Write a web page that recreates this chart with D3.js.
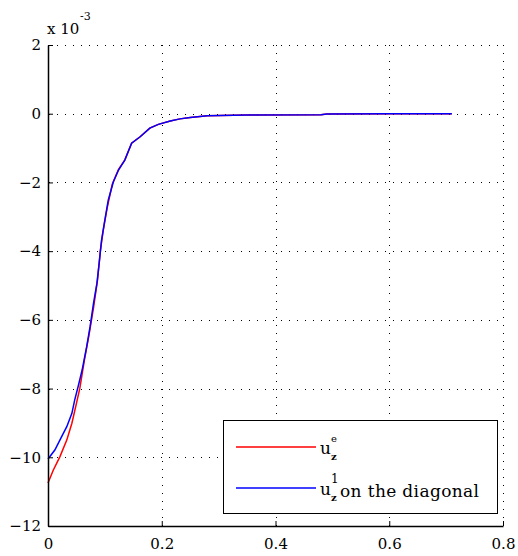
<!DOCTYPE html>
<html>
<head>
<meta charset="utf-8">
<script src="https://cdn.jsdelivr.net/npm/d3@7"></script>
<style>
  html, body { margin: 0; padding: 0; background: #fff; }
  svg { display: block; }
</style>
</head>
<body>
<svg id="chart" width="518" height="556" font-family="DejaVu Serif"></svg>
<script>
// Vertical displacement profiles (values in units of 1e-3)
const exactX = [0, 0.0094, 0.021, 0.033, 0.042, 0.050, 0.056, 0.064, 0.072, 0.080, 0.087, 0.092, 0.097, 0.104, 0.113, 0.124, 0.135, 0.147, 0.162, 0.179, 0.194, 0.215, 0.232, 0.25, 0.28, 0.35, 0.48, 0.49, 0.60, 0.71];
const exactY = [-10.75, -10.37, -9.98, -9.50, -9.01, -8.43, -7.99, -7.17, -6.45, -5.65, -4.85, -4.0, -3.4, -2.75, -2.05, -1.62, -1.35, -0.86, -0.67, -0.42, -0.31, -0.21, -0.15, -0.11, -0.06, -0.04, -0.03, -0.01, 0, 0];

const diagX = [0, 0.012, 0.024, 0.033, 0.042, 0.047, 0.053, 0.060, 0.068, 0.074, 0.080, 0.086, 0.090, 0.094, 0.100, 0.106, 0.115, 0.124, 0.135, 0.147, 0.162, 0.179, 0.194, 0.215, 0.232, 0.25, 0.28, 0.35, 0.48, 0.49, 0.60, 0.71];
const diagY = [-10.05, -9.79, -9.40, -9.11, -8.72, -8.33, -7.94, -7.46, -6.78, -6.20, -5.52, -4.94, -4.35, -3.70, -3.09, -2.51, -1.98, -1.64, -1.35, -0.86, -0.67, -0.42, -0.31, -0.21, -0.15, -0.11, -0.06, -0.04, -0.03, -0.01, 0, 0];

const xTicks = [0, 0.2, 0.4, 0.6, 0.8];
const yTicks = [-12, -10, -8, -6, -4, -2, 0, 2];

const SERIF = "DejaVu Serif";

const svg = d3.select("#chart");

const x = d3.scaleLinear().domain([0, 0.8]).range([48, 503]);
const y = d3.scaleLinear().domain([-12, 2]).range([526, 45]);

// dotted grid
const grid = svg.append("g")
  .attr("stroke", "#000")
  .attr("stroke-width", 1)
  .attr("stroke-dasharray", "1,7")
  .attr("shape-rendering", "crispEdges");

grid.selectAll("line.h")
  .data(yTicks.filter(d => d > -12))
  .join("line")
  .attr("class", "h")
  .attr("x1", x(0) + 0.5).attr("x2", x(0.8) + 0.5)
  .attr("y1", d => Math.round(y(d)) + 0.5)
  .attr("y2", d => Math.round(y(d)) + 0.5);

grid.selectAll("line.v")
  .data(xTicks.filter(d => d > 0))
  .join("line")
  .attr("class", "v")
  .attr("y1", y(-12)).attr("y2", y(2))
  .attr("x1", d => Math.round(x(d)) + 0.5)
  .attr("x2", d => Math.round(x(d)) + 0.5);

// curves
const line = d3.line().x(d => x(d[0])).y(d => y(d[1]));
const exactPts = exactX.map((v, i) => [v, exactY[i]]);
const diagPts = diagX.map((v, i) => [v, diagY[i]]);

svg.append("path")
  .datum(exactPts)
  .attr("d", line)
  .attr("fill", "none")
  .attr("stroke", "#ff0000")
  .attr("stroke-width", 1.5);

svg.append("path")
  .datum(diagPts)
  .attr("d", line)
  .attr("fill", "none")
  .attr("stroke", "#0000ff")
  .attr("stroke-width", 1.5);

// axes
const yAxis = d3.axisLeft(y).tickValues(yTicks).tickSizeInner(-5).tickSizeOuter(0).tickPadding(7);
const xAxis = d3.axisBottom(x).tickValues(xTicks).tickSizeInner(-5).tickSizeOuter(0).tickPadding(12)
  .tickFormat(d => d === 0 ? "0" : d3.format(".1f")(d));

const gy = svg.append("g").attr("transform", `translate(${x(0)},0)`).call(yAxis);
const gx = svg.append("g").attr("transform", `translate(0,${y(-12)})`).call(xAxis);

[gx, gy].forEach(g => {
  g.attr("font-family", SERIF).attr("font-size", 15);
  g.select(".domain").attr("stroke", "#000").attr("stroke-width", 1.5);
  g.selectAll(".tick line").attr("stroke", "#000").attr("stroke-width", 1);
  g.selectAll(".tick text").attr("fill", "#000");
});

// exponent label
svg.append("text").attr("x", 47).attr("y", 34).attr("font-size", 15).text("x 10");
svg.append("text").attr("x", 80).attr("y", 20).attr("font-size", 11).text("-3");

// legend
const leg = svg.append("g");
leg.append("rect")
  .attr("x", 223.5).attr("y", 420.5)
  .attr("width", 274).attr("height", 93)
  .attr("fill", "#fff").attr("stroke", "#000").attr("stroke-width", 1);

const legendItems = [
  { color: "#ff0000", ly: 447, sup: "e", supSize: 10, rest: "" },
  { color: "#0000ff", ly: 488, sup: "1", supSize: 12, rest: "on the diagonal" }
];

legendItems.forEach(it => {
  leg.append("line")
    .attr("x1", 236).attr("x2", 316)
    .attr("y1", it.ly).attr("y2", it.ly)
    .attr("stroke", it.color).attr("stroke-width", 1.5);
  leg.append("text").attr("x", 320).attr("y", it.ly + 7).attr("font-size", 17).text("u");
  leg.append("text").attr("x", 331).attr("y", it.ly - 5).attr("font-size", it.supSize).text(it.sup);
  leg.append("text").attr("x", 331).attr("y", it.ly + 13).attr("font-size", 10).attr("font-weight", "bold").text("z");
  if (it.rest) {
    leg.append("text").attr("x", 340).attr("y", it.ly + 9).attr("font-size", 17)
      .attr("textLength", 139).attr("lengthAdjust", "spacing").text(it.rest);
  }
});
</script>
</body>
</html>
